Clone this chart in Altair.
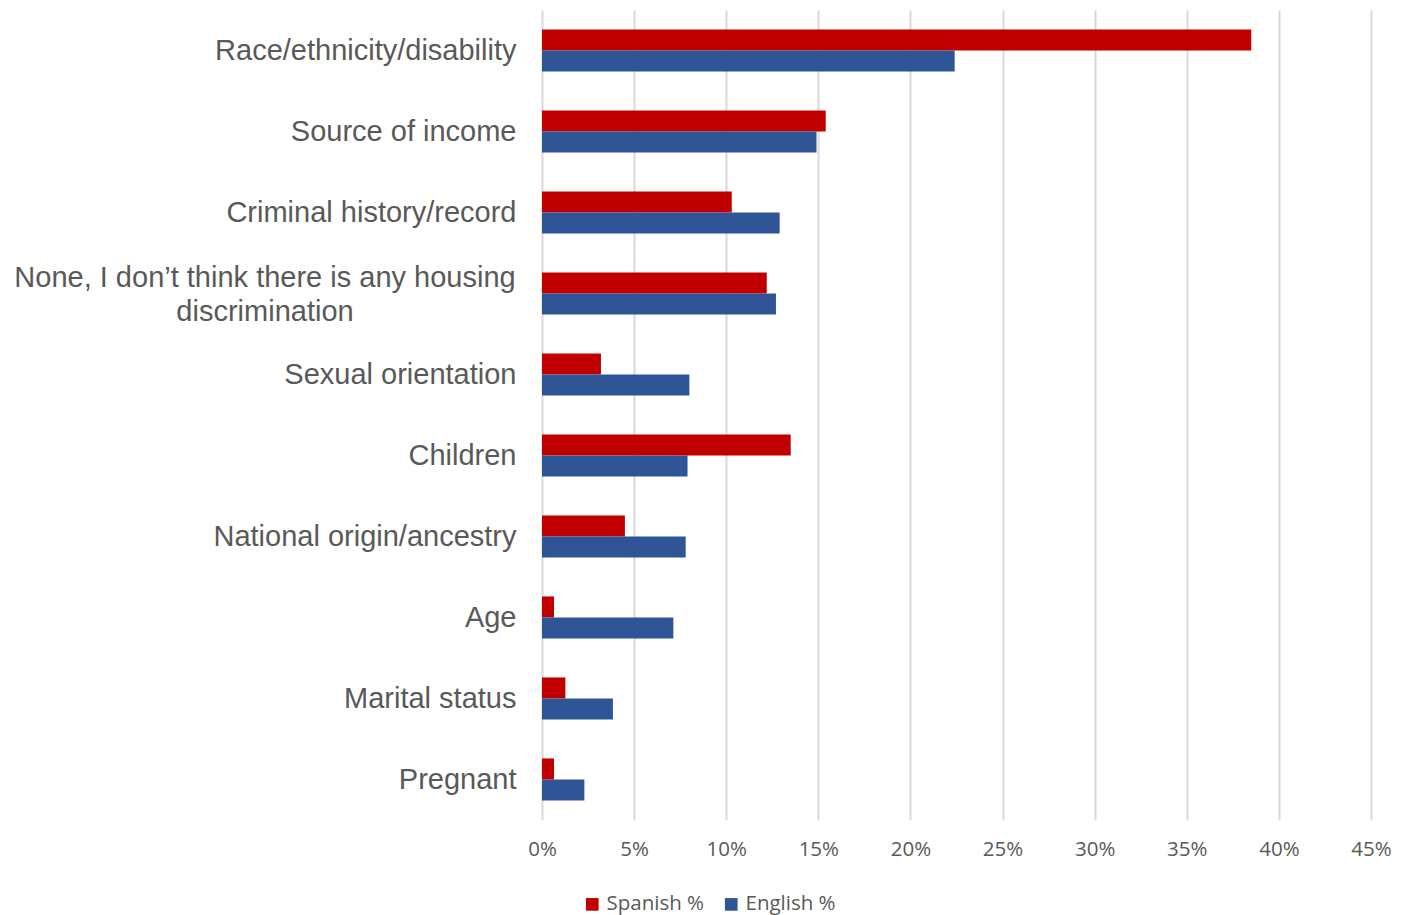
import altair as alt
import pandas as pd

categories = [
    "Race/ethnicity/disability",
    "Source of income",
    "Criminal history/record",
    "None, I don\u2019t think there is any housing discrimination",
    "Sexual orientation",
    "Children",
    "National origin/ancestry",
    "Age",
    "Marital status",
    "Pregnant",
]
spanish = [0.385, 0.154, 0.103, 0.122, 0.032, 0.135, 0.045, 0.0065, 0.0127, 0.0065]
english = [0.224, 0.149, 0.129, 0.127, 0.080, 0.079, 0.078, 0.0713, 0.0385, 0.023]
series = ["Spanish %", "English %"]
colors = ["#C00000", "#2F5597"]
long_label = categories[3]

rows = []
for c, s, e in zip(categories, spanish, english):
    rows.append({"category": c, "series": series[0], "value": s})
    rows.append({"category": c, "series": series[1], "value": e})
df = pd.DataFrame(rows)

yscale = alt.Scale(domain=categories, paddingInner=0.48, paddingOuter=0.24)

bars = alt.Chart(df).mark_bar().encode(
    x=alt.X("value:Q",
            scale=alt.Scale(domain=[0, 0.45], nice=False),
            axis=alt.Axis(format=".0%", values=[i * 0.05 for i in range(10)],
                          title=None, domain=False, ticks=False,
                          grid=True, gridColor="#D9D9D9", gridWidth=2,
                          labelFlush=False,
                          labelFont="Open Sans", labelFontSize=20.5,
                          labelColor="#595959", labelPadding=19)),
    y=alt.Y("category:N", scale=yscale, sort=categories,
            axis=alt.Axis(title=None, domain=False, ticks=False,
                          labelFont="Liberation Sans", labelFontSize=29,
                          labelColor="#595959", labelPadding=26,
                          labelLimit=600,
                          labelExpr=f"datum.label == '{long_label}' ? '' : datum.label")),
    yOffset=alt.YOffset("series:N", sort=series),
    color=alt.Color("series:N", sort=series,
                    scale=alt.Scale(domain=series, range=colors),
                    legend=alt.Legend(title=None, orient="none", direction="horizontal",
                                      legendX=40, legendY=884,
                                      symbolType="square", symbolSize=160,
                                      symbolStrokeWidth=0,
                                      labelFont="Open Sans", labelFontSize=20.5,
                                      labelColor="#595959", columnPadding=16,
                                      labelOffset=4)),
)

long_df = pd.DataFrame({"category": [long_label],
                        "text": ["None, I don\u2019t think there is any housing\ndiscrimination"]})
long_text = alt.Chart(long_df).mark_text(
    align="center", baseline="middle", lineBreak="\n", lineHeight=34,
    font="Liberation Sans", fontSize=29, color="#595959", dy=-16
).encode(
    x=alt.value(-277),
    y=alt.Y("category:N", scale=yscale, sort=categories),
    text="text:N",
)

chart = alt.layer(bars, long_text).properties(
    width=829, height=810,
    autosize=alt.AutoSizeParams(type="none"),
    padding={"left": 534, "top": 2, "right": 30, "bottom": 100},
).configure_view(stroke=None)

chart.save("out.html", embed_options={"renderer": "svg", "actions": False})
